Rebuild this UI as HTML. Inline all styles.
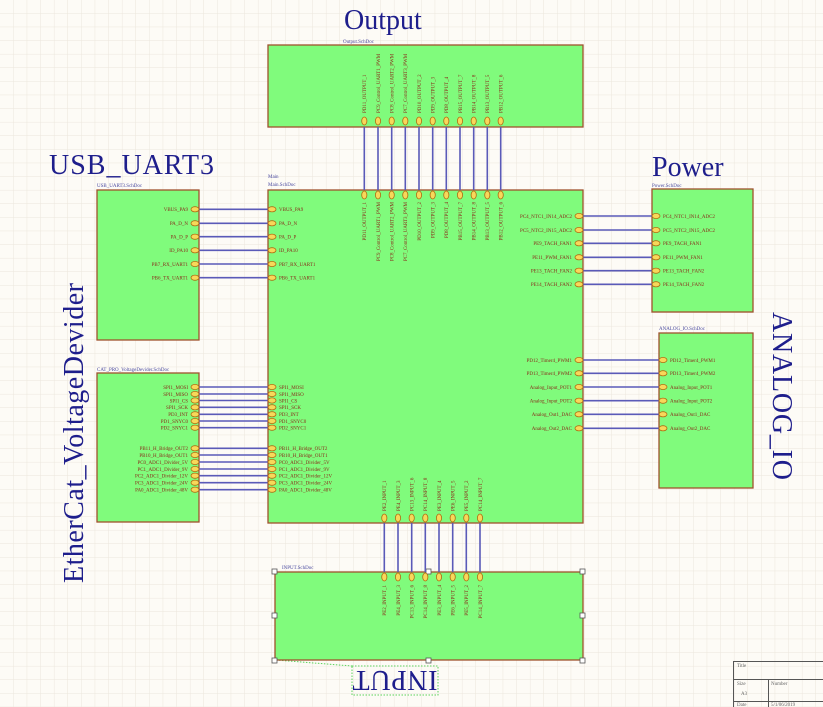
<!DOCTYPE html>
<html><head><meta charset="utf-8"><style>
html,body{margin:0;padding:0;background:#fdfbf6}
svg{display:block}
.t{font-family:"Liberation Serif",serif;fill:#1e1e8c}
.p{font-family:"Liberation Serif",serif;font-size:5px;fill:#8a2a1a}
.s{font-family:"Liberation Serif",serif;font-size:5px;fill:#4a4aa0}
.b{fill:#80fb7c;stroke:#a0522d;stroke-width:1.3}
.w{stroke:#5a5ab8;stroke-width:1.6}
.ph{fill:#f7d85a;stroke:#b06a10;stroke-width:.8}
</style></head><body>
<svg width="823" height="707" viewBox="0 0 823 707" xmlns="http://www.w3.org/2000/svg">
<defs><pattern id="g" x="0" y="0" width="13.6" height="13.6" patternUnits="userSpaceOnUse"><path d="M13.6 0V13.6H0" fill="none" stroke="#ebe6dc" stroke-width="1"/></pattern></defs>
<rect width="823" height="707" fill="#fdfbf6"/>
<rect width="823" height="707" fill="url(#g)"/>

<!-- titles -->
<text class="t" x="344" y="29" font-size="28">Output</text>
<text class="t" x="49" y="174" font-size="28" textLength="165">USB_UART3</text>
<text class="t" x="652" y="176" font-size="28">Power</text>
<text class="t" transform="rotate(-90 83 583)" x="83" y="583" font-size="28" textLength="300">EtherCat_VoltageDevider</text>
<text class="t" transform="rotate(90 773 312)" x="773" y="312" font-size="28" textLength="168">ANALOG_IO</text>
<text class="t" transform="rotate(180 395 681)" x="395" y="691" font-size="28" text-anchor="middle" textLength="85">INPUT</text>
<rect x="352" y="666" width="86" height="29" fill="none" stroke="#5ad25a" stroke-dasharray="1.5 1.5"/>
<path d="M276 660 L352 666" stroke="#5ad25a" stroke-dasharray="1.5 1.5" fill="none"/>

<!-- sheet labels -->
<text class="s" x="343" y="43">Output.SchDoc</text>
<text class="s" x="268" y="178">Main</text>
<text class="s" x="268" y="186">Main.SchDoc</text>
<text class="s" x="97" y="187">USB_UART3.SchDoc</text>
<text class="s" x="97" y="371">CAT_PRO_VoltageDevider.SchDoc</text>
<text class="s" x="652" y="187">Power.SchDoc</text>
<text class="s" x="659" y="330">ANALOG_IO.SchDoc</text>
<text class="s" x="282" y="569">INPUT.SchDoc</text>

<!-- boxes -->
<rect class="b" x="268" y="45" width="315" height="82"/>
<rect class="b" x="268" y="190" width="315" height="333"/>
<rect class="b" x="97" y="190" width="102" height="150"/>
<rect class="b" x="97" y="373" width="102" height="149"/>
<rect class="b" x="652" y="189" width="101" height="123"/>
<rect class="b" x="659" y="333" width="94" height="155"/>
<rect class="b" x="275" y="572" width="308" height="88"/>
<g fill="#fff" stroke="#555" stroke-width=".8">
<rect x="272" y="569" width="5" height="5"/><rect x="426" y="569" width="5" height="5"/><rect x="580" y="569" width="5" height="5"/>
<rect x="272" y="613" width="5" height="5"/><rect x="580" y="613" width="5" height="5"/>
<rect x="272" y="658" width="5" height="5"/><rect x="426" y="658" width="5" height="5"/><rect x="580" y="658" width="5" height="5"/>
</g>

<!-- Output/Main vertical wires -->
<g class="w">
<line x1="364.3" y1="127" x2="364.3" y2="190"/><line x1="378" y1="127" x2="378" y2="190"/><line x1="391.7" y1="127" x2="391.7" y2="190"/><line x1="405.3" y1="127" x2="405.3" y2="190"/><line x1="419" y1="127" x2="419" y2="190"/><line x1="432.7" y1="127" x2="432.7" y2="190"/><line x1="446.3" y1="127" x2="446.3" y2="190"/><line x1="460" y1="127" x2="460" y2="190"/><line x1="473.7" y1="127" x2="473.7" y2="190"/><line x1="487.3" y1="127" x2="487.3" y2="190"/><line x1="500.7" y1="127" x2="500.7" y2="190"/>
<line x1="384.3" y1="523" x2="384.3" y2="572"/><line x1="398" y1="523" x2="398" y2="572"/><line x1="411.7" y1="523" x2="411.7" y2="572"/><line x1="425.3" y1="523" x2="425.3" y2="572"/><line x1="439" y1="523" x2="439" y2="572"/><line x1="452.7" y1="523" x2="452.7" y2="572"/><line x1="466.3" y1="523" x2="466.3" y2="572"/><line x1="480" y1="523" x2="480" y2="572"/>
<!-- USB -->
<line x1="199" y1="209.3" x2="268" y2="209.3"/><line x1="199" y1="223.3" x2="268" y2="223.3"/><line x1="199" y1="236.7" x2="268" y2="236.7"/><line x1="199" y1="250.3" x2="268" y2="250.3"/><line x1="199" y1="264" x2="268" y2="264"/><line x1="199" y1="277.7" x2="268" y2="277.7"/>
<!-- EtherCat -->
<line x1="199" y1="387" x2="268" y2="387"/><line x1="199" y1="394" x2="268" y2="394"/><line x1="199" y1="400.5" x2="268" y2="400.5"/><line x1="199" y1="407.3" x2="268" y2="407.3"/><line x1="199" y1="414.3" x2="268" y2="414.3"/><line x1="199" y1="421" x2="268" y2="421"/><line x1="199" y1="427.7" x2="268" y2="427.7"/>
<line x1="199" y1="448.3" x2="268" y2="448.3"/><line x1="199" y1="455" x2="268" y2="455"/><line x1="199" y1="462" x2="268" y2="462"/><line x1="199" y1="469" x2="268" y2="469"/><line x1="199" y1="475.7" x2="268" y2="475.7"/><line x1="199" y1="482.7" x2="268" y2="482.7"/><line x1="199" y1="489.7" x2="268" y2="489.7"/>
<!-- Power -->
<line x1="583" y1="216" x2="652" y2="216"/><line x1="583" y1="230" x2="652" y2="230"/><line x1="583" y1="243.3" x2="652" y2="243.3"/><line x1="583" y1="257.3" x2="652" y2="257.3"/><line x1="583" y1="270.7" x2="652" y2="270.7"/><line x1="583" y1="284.3" x2="652" y2="284.3"/>
<!-- Analog -->
<line x1="583" y1="360" x2="659" y2="360"/><line x1="583" y1="373.3" x2="659" y2="373.3"/><line x1="583" y1="387" x2="659" y2="387"/><line x1="583" y1="400.7" x2="659" y2="400.7"/><line x1="583" y1="414.3" x2="659" y2="414.3"/><line x1="583" y1="428.3" x2="659" y2="428.3"/>
</g>

<!-- pins vertical -->
<g class="ph">
<ellipse cx="364.3" cy="121" rx="2.6" ry="4"/><ellipse cx="378" cy="121" rx="2.6" ry="4"/><ellipse cx="391.7" cy="121" rx="2.6" ry="4"/><ellipse cx="405.3" cy="121" rx="2.6" ry="4"/><ellipse cx="419" cy="121" rx="2.6" ry="4"/><ellipse cx="432.7" cy="121" rx="2.6" ry="4"/><ellipse cx="446.3" cy="121" rx="2.6" ry="4"/><ellipse cx="460" cy="121" rx="2.6" ry="4"/><ellipse cx="473.7" cy="121" rx="2.6" ry="4"/><ellipse cx="487.3" cy="121" rx="2.6" ry="4"/><ellipse cx="500.7" cy="121" rx="2.6" ry="4"/>
<ellipse cx="364.3" cy="195" rx="2.6" ry="4"/><ellipse cx="378" cy="195" rx="2.6" ry="4"/><ellipse cx="391.7" cy="195" rx="2.6" ry="4"/><ellipse cx="405.3" cy="195" rx="2.6" ry="4"/><ellipse cx="419" cy="195" rx="2.6" ry="4"/><ellipse cx="432.7" cy="195" rx="2.6" ry="4"/><ellipse cx="446.3" cy="195" rx="2.6" ry="4"/><ellipse cx="460" cy="195" rx="2.6" ry="4"/><ellipse cx="473.7" cy="195" rx="2.6" ry="4"/><ellipse cx="487.3" cy="195" rx="2.6" ry="4"/><ellipse cx="500.7" cy="195" rx="2.6" ry="4"/>
<ellipse cx="384.3" cy="518" rx="2.6" ry="4"/><ellipse cx="398" cy="518" rx="2.6" ry="4"/><ellipse cx="411.7" cy="518" rx="2.6" ry="4"/><ellipse cx="425.3" cy="518" rx="2.6" ry="4"/><ellipse cx="439" cy="518" rx="2.6" ry="4"/><ellipse cx="452.7" cy="518" rx="2.6" ry="4"/><ellipse cx="466.3" cy="518" rx="2.6" ry="4"/><ellipse cx="480" cy="518" rx="2.6" ry="4"/>
<ellipse cx="384.3" cy="577" rx="2.6" ry="4"/><ellipse cx="398" cy="577" rx="2.6" ry="4"/><ellipse cx="411.7" cy="577" rx="2.6" ry="4"/><ellipse cx="425.3" cy="577" rx="2.6" ry="4"/><ellipse cx="439" cy="577" rx="2.6" ry="4"/><ellipse cx="452.7" cy="577" rx="2.6" ry="4"/><ellipse cx="466.3" cy="577" rx="2.6" ry="4"/><ellipse cx="480" cy="577" rx="2.6" ry="4"/>
<!-- horizontal pins -->
<ellipse cx="195" cy="209.3" rx="4" ry="2.6"/><ellipse cx="195" cy="223.3" rx="4" ry="2.6"/><ellipse cx="195" cy="236.7" rx="4" ry="2.6"/><ellipse cx="195" cy="250.3" rx="4" ry="2.6"/><ellipse cx="195" cy="264" rx="4" ry="2.6"/><ellipse cx="195" cy="277.7" rx="4" ry="2.6"/>
<ellipse cx="272" cy="209.3" rx="4" ry="2.6"/><ellipse cx="272" cy="223.3" rx="4" ry="2.6"/><ellipse cx="272" cy="236.7" rx="4" ry="2.6"/><ellipse cx="272" cy="250.3" rx="4" ry="2.6"/><ellipse cx="272" cy="264" rx="4" ry="2.6"/><ellipse cx="272" cy="277.7" rx="4" ry="2.6"/>
<ellipse cx="195" cy="387" rx="4" ry="2.6"/><ellipse cx="195" cy="394" rx="4" ry="2.6"/><ellipse cx="195" cy="400.5" rx="4" ry="2.6"/><ellipse cx="195" cy="407.3" rx="4" ry="2.6"/><ellipse cx="195" cy="414.3" rx="4" ry="2.6"/><ellipse cx="195" cy="421" rx="4" ry="2.6"/><ellipse cx="195" cy="427.7" rx="4" ry="2.6"/>
<ellipse cx="195" cy="448.3" rx="4" ry="2.6"/><ellipse cx="195" cy="455" rx="4" ry="2.6"/><ellipse cx="195" cy="462" rx="4" ry="2.6"/><ellipse cx="195" cy="469" rx="4" ry="2.6"/><ellipse cx="195" cy="475.7" rx="4" ry="2.6"/><ellipse cx="195" cy="482.7" rx="4" ry="2.6"/><ellipse cx="195" cy="489.7" rx="4" ry="2.6"/>
<ellipse cx="272" cy="387" rx="4" ry="2.6"/><ellipse cx="272" cy="394" rx="4" ry="2.6"/><ellipse cx="272" cy="400.5" rx="4" ry="2.6"/><ellipse cx="272" cy="407.3" rx="4" ry="2.6"/><ellipse cx="272" cy="414.3" rx="4" ry="2.6"/><ellipse cx="272" cy="421" rx="4" ry="2.6"/><ellipse cx="272" cy="427.7" rx="4" ry="2.6"/>
<ellipse cx="272" cy="448.3" rx="4" ry="2.6"/><ellipse cx="272" cy="455" rx="4" ry="2.6"/><ellipse cx="272" cy="462" rx="4" ry="2.6"/><ellipse cx="272" cy="469" rx="4" ry="2.6"/><ellipse cx="272" cy="475.7" rx="4" ry="2.6"/><ellipse cx="272" cy="482.7" rx="4" ry="2.6"/><ellipse cx="272" cy="489.7" rx="4" ry="2.6"/>
<ellipse cx="579" cy="216" rx="4" ry="2.6"/><ellipse cx="579" cy="230" rx="4" ry="2.6"/><ellipse cx="579" cy="243.3" rx="4" ry="2.6"/><ellipse cx="579" cy="257.3" rx="4" ry="2.6"/><ellipse cx="579" cy="270.7" rx="4" ry="2.6"/><ellipse cx="579" cy="284.3" rx="4" ry="2.6"/>
<ellipse cx="656" cy="216" rx="4" ry="2.6"/><ellipse cx="656" cy="230" rx="4" ry="2.6"/><ellipse cx="656" cy="243.3" rx="4" ry="2.6"/><ellipse cx="656" cy="257.3" rx="4" ry="2.6"/><ellipse cx="656" cy="270.7" rx="4" ry="2.6"/><ellipse cx="656" cy="284.3" rx="4" ry="2.6"/>
<ellipse cx="579" cy="360" rx="4" ry="2.6"/><ellipse cx="579" cy="373.3" rx="4" ry="2.6"/><ellipse cx="579" cy="387" rx="4" ry="2.6"/><ellipse cx="579" cy="400.7" rx="4" ry="2.6"/><ellipse cx="579" cy="414.3" rx="4" ry="2.6"/><ellipse cx="579" cy="428.3" rx="4" ry="2.6"/>
<ellipse cx="663" cy="360" rx="4" ry="2.6"/><ellipse cx="663" cy="373.3" rx="4" ry="2.6"/><ellipse cx="663" cy="387" rx="4" ry="2.6"/><ellipse cx="663" cy="400.7" rx="4" ry="2.6"/><ellipse cx="663" cy="414.3" rx="4" ry="2.6"/><ellipse cx="663" cy="428.3" rx="4" ry="2.6"/>
</g>

<!-- USB labels -->
<g class="p" text-anchor="end">
<text x="188" y="211">VBUS_PA9</text><text x="188" y="225">PA_D_N</text><text x="188" y="238.5">PA_D_P</text><text x="188" y="252">ID_PA10</text><text x="188" y="266">PB7_RX_UART1</text><text x="188" y="279.5">PB6_TX_UART1</text>
<text x="188" y="389">SPI1_MOSI</text><text x="188" y="396">SPI1_MISO</text><text x="188" y="402.5">SPI1_CS</text><text x="188" y="409">SPI1_SCK</text><text x="188" y="416">PD3_INT</text><text x="188" y="423">PD1_SNYC0</text><text x="188" y="429.5">PD2_SNYC1</text>
<text x="188" y="450">PB11_H_Bridge_OUT2</text><text x="188" y="457">PB10_H_Bridge_OUT1</text><text x="188" y="464">PC0_ADC1_Divider_5V</text><text x="188" y="471">PC1_ADC1_Divider_9V</text><text x="188" y="477.5">PC2_ADC1_Divider_12V</text><text x="188" y="484.5">PC3_ADC1_Divider_24V</text><text x="188" y="491.5">PA0_ADC1_Divider_48V</text>
<text x="572" y="218">PC4_NTC1_IN14_ADC2</text><text x="572" y="232">PC5_NTC2_IN15_ADC2</text><text x="572" y="245">PE9_TACH_FAN1</text><text x="572" y="259">PE11_PWM_FAN1</text><text x="572" y="272.5">PE13_TACH_FAN2</text><text x="572" y="286">PE14_TACH_FAN2</text>
<text x="572" y="362">PD12_Timer4_PWM1</text><text x="572" y="375">PD13_Timer4_PWM2</text><text x="572" y="389">Analog_Input_POT1</text><text x="572" y="402.5">Analog_Input_POT2</text><text x="572" y="416">Analog_Out1_DAC</text><text x="572" y="430">Analog_Out2_DAC</text>
</g>
<g class="p">
<text x="279" y="211">VBUS_PA9</text><text x="279" y="225">PA_D_N</text><text x="279" y="238.5">PA_D_P</text><text x="279" y="252">ID_PA10</text><text x="279" y="266">PB7_RX_UART1</text><text x="279" y="279.5">PB6_TX_UART1</text>
<text x="279" y="389">SPI1_MOSI</text><text x="279" y="396">SPI1_MISO</text><text x="279" y="402.5">SPI1_CS</text><text x="279" y="409">SPI1_SCK</text><text x="279" y="416">PD3_INT</text><text x="279" y="423">PD1_SNYC0</text><text x="279" y="429.5">PD2_SNYC1</text>
<text x="279" y="450">PB11_H_Bridge_OUT2</text><text x="279" y="457">PB10_H_Bridge_OUT1</text><text x="279" y="464">PC0_ADC1_Divider_5V</text><text x="279" y="471">PC1_ADC1_Divider_9V</text><text x="279" y="477.5">PC2_ADC1_Divider_12V</text><text x="279" y="484.5">PC3_ADC1_Divider_24V</text><text x="279" y="491.5">PA0_ADC1_Divider_48V</text>
<text x="663" y="218">PC4_NTC1_IN14_ADC2</text><text x="663" y="232">PC5_NTC2_IN15_ADC2</text><text x="663" y="245">PE9_TACH_FAN1</text><text x="663" y="259">PE11_PWM_FAN1</text><text x="663" y="272.5">PE13_TACH_FAN2</text><text x="663" y="286">PE14_TACH_FAN2</text>
<text x="670" y="362">PD12_Timer4_PWM1</text><text x="670" y="375">PD13_Timer4_PWM2</text><text x="670" y="389">Analog_Input_POT1</text><text x="670" y="402.5">Analog_Input_POT2</text><text x="670" y="416">Analog_Out1_DAC</text><text x="670" y="430">Analog_Out2_DAC</text>
</g>

<!-- vertical labels: Output box (above pins) -->
<g class="p">
<text transform="rotate(-90 366 113)" x="366" y="113">PD11_OUTPUT_1</text>
<text transform="rotate(-90 380 113)" x="380" y="113">PC9_Control_UART1_PWM</text>
<text transform="rotate(-90 393.5 113)" x="393.5" y="113">PC8_Control_UART2_PWM</text>
<text transform="rotate(-90 407 113)" x="407" y="113">PC7_Control_UART3_PWM</text>
<text transform="rotate(-90 421 113)" x="421" y="113">PD10_OUTPUT_2</text>
<text transform="rotate(-90 434.5 113)" x="434.5" y="113">PD9_OUTPUT_3</text>
<text transform="rotate(-90 448 113)" x="448" y="113">PD8_OUTPUT_4</text>
<text transform="rotate(-90 462 113)" x="462" y="113">PB15_OUTPUT_7</text>
<text transform="rotate(-90 475.5 113)" x="475.5" y="113">PB14_OUTPUT_8</text>
<text transform="rotate(-90 489 113)" x="489" y="113">PB13_OUTPUT_5</text>
<text transform="rotate(-90 502.5 113)" x="502.5" y="113">PB12_OUTPUT_6</text>
</g>
<g class="p" text-anchor="end">
<text transform="rotate(-90 366 202)" x="366" y="202">PD11_OUTPUT_1</text>
<text transform="rotate(-90 380 202)" x="380" y="202">PC9_Control_UART1_PWM</text>
<text transform="rotate(-90 393.5 202)" x="393.5" y="202">PC8_Control_UART2_PWM</text>
<text transform="rotate(-90 407 202)" x="407" y="202">PC7_Control_UART3_PWM</text>
<text transform="rotate(-90 421 202)" x="421" y="202">PD10_OUTPUT_2</text>
<text transform="rotate(-90 434.5 202)" x="434.5" y="202">PD9_OUTPUT_3</text>
<text transform="rotate(-90 448 202)" x="448" y="202">PD8_OUTPUT_4</text>
<text transform="rotate(-90 462 202)" x="462" y="202">PB15_OUTPUT_7</text>
<text transform="rotate(-90 475.5 202)" x="475.5" y="202">PB14_OUTPUT_8</text>
<text transform="rotate(-90 489 202)" x="489" y="202">PB13_OUTPUT_5</text>
<text transform="rotate(-90 502.5 202)" x="502.5" y="202">PB12_OUTPUT_6</text>
<text transform="rotate(-90 386 585)" x="386" y="585">PE2_INPUT_1</text>
<text transform="rotate(-90 400 585)" x="400" y="585">PE4_INPUT_3</text>
<text transform="rotate(-90 413.5 585)" x="413.5" y="585">PC13_INPUT_6</text>
<text transform="rotate(-90 427 585)" x="427" y="585">PC14_INPUT_8</text>
<text transform="rotate(-90 441 585)" x="441" y="585">PE3_INPUT_4</text>
<text transform="rotate(-90 454.5 585)" x="454.5" y="585">PE6_INPUT_5</text>
<text transform="rotate(-90 468 585)" x="468" y="585">PE5_INPUT_2</text>
<text transform="rotate(-90 482 585)" x="482" y="585">PC14_INPUT_7</text>
</g>
<g class="p">
<text transform="rotate(-90 386 511)" x="386" y="511">PE2_INPUT_1</text>
<text transform="rotate(-90 400 511)" x="400" y="511">PE4_INPUT_3</text>
<text transform="rotate(-90 413.5 511)" x="413.5" y="511">PC13_INPUT_6</text>
<text transform="rotate(-90 427 511)" x="427" y="511">PC14_INPUT_8</text>
<text transform="rotate(-90 441 511)" x="441" y="511">PE3_INPUT_4</text>
<text transform="rotate(-90 454.5 511)" x="454.5" y="511">PE6_INPUT_5</text>
<text transform="rotate(-90 468 511)" x="468" y="511">PE5_INPUT_2</text>
<text transform="rotate(-90 482 511)" x="482" y="511">PC14_INPUT_7</text>
</g>

<!-- title block -->
<g fill="none" stroke="#555" stroke-width="1">
<path d="M733.5 707V661.5H823"/><path d="M733.5 679.5H823"/><path d="M768.5 679.5V707"/><path d="M733.5 701.5H823"/>
</g>
<g font-family="Liberation Serif,serif" font-size="5" fill="#666">
<text x="737" y="667">Title</text><text x="737" y="685">Size</text><text x="771" y="685">Number</text><text x="741" y="695">A3</text><text x="737" y="706">Date</text><text x="771" y="706">5/1/06/2019</text>
</g>
</svg>
</body></html>
